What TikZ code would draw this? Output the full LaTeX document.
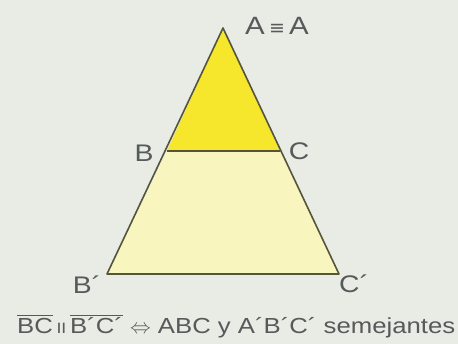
\documentclass[tikz,border=0pt]{standalone}
\usepackage{fontspec}
\setmainfont{Liberation Sans}[FakeStretch=1.18]
\newfontfamily\symbolfont{DejaVu Sans}
\definecolor{paper}{HTML}{E8ECE5}
\definecolor{darkyellow}{HTML}{F6E62C}
\definecolor{lightyellow}{HTML}{F8F5BE}
\definecolor{edge}{HTML}{55553C}
\definecolor{ink}{HTML}{555A5A}
\begin{document}
\begin{tikzpicture}[
			x=1pt, y=-1pt,
			vertex label/.style={font=\fontsize{24}{24}\selectfont, text=ink, inner sep=0pt},
			side/.style={draw=edge, line width=1.6pt, line join=round}
			]
			\useasboundingbox[fill=paper] (0,0) rectangle (458,344);
			\coordinate (A) at (223,28);
			\coordinate (B) at (167,151);
			\coordinate (C) at (280,151);
			\coordinate (B2) at (107,274);
			\coordinate (C2) at (339,274);
			
			\fill[lightyellow] (B) -- (C) -- (C2) -- (B2) -- cycle;
			\fill[darkyellow] (A) -- (B) -- (C) -- cycle;
			\draw[side] (A) -- (B2) -- (C2) -- cycle;
			\draw[side] (B) -- (C);
			
			\node[vertex label, font=\fontsize{25}{25}\selectfont] (labA) at (277,26) {A\,{\symbolfont\fontsize{19}{19}\selectfont ≡}\,A};
			\node[vertex label] (labB) at (144,153) {B};
			\node[vertex label] (labC) at (299,151) {C};
			\node[vertex label] (labB2) at (87,285) {B´};
			\node[vertex label] (labC2) at (354,284) {C´};
			
			\node[font=\fontsize{21.8}{21.8}\selectfont, text=ink, inner sep=0pt, anchor=base west] (caption) at (17,334)
				{$\overline{\hbox{\rule{0pt}{17.5pt}BC}}$\,{\fontsize{15}{15}\selectfont II}\,$\overline{\hbox{\rule{0pt}{17.5pt}B´C´}}$ $\Leftrightarrow$ ABC y A´B´C´ semejantes};
		\end{tikzpicture}
\end{document}
